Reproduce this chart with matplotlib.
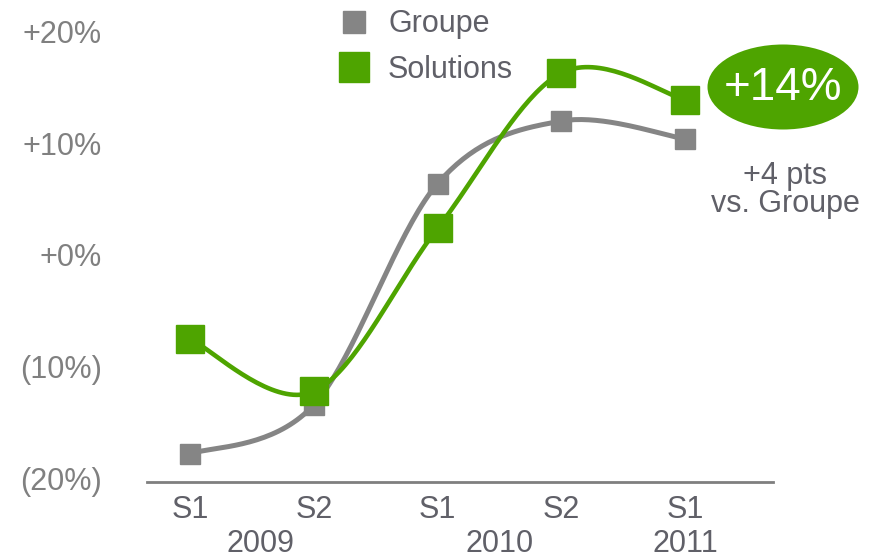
import numpy as np
import matplotlib
matplotlib.use("Agg")
import matplotlib.pyplot as plt
from matplotlib.patches import Ellipse

periods = ["S1", "S2", "S1", "S2", "S1"]
years = ["2009", "2010", "2011"]
year_pos = [0.57, 2.5, 4.0]
groupe = [-17.5, -13.1, 6.7, 12.3, 10.7]
solutions = [-7.2, -11.9, 2.7, 16.6, 14.2]
yticks = [20, 10, 0, -10, -20]
ytick_labels = ["+20%", "+10%", "+0%", "(10%)", "(20%)"]
badge_text = "+14%"
note_text = "+4 pts\nvs. Groupe"

GREEN = "#4ea400"
GREY = "#858585"
TXT = "#606068"
FS = 22

plt.rcParams['font.family'] = ['Liberation Sans', 'DejaVu Sans']

fig = plt.figure(figsize=(8.86, 5.6), dpi=100)
ax = fig.add_axes([147/886, (560-482)/560, 626/886, (482-35)/560])
ax.set_xlim(-0.347, 4.71)
ax.set_ylim(-20, 20)

def smooth(ax, xs, ys, n=40):
    pts = ax.transData.transform(np.column_stack([xs, ys]))
    P = np.vstack([pts[0], pts, pts[-1]])
    out = []
    for i in range(1, len(P) - 2):
        p0, p1, p2, p3 = P[i-1], P[i], P[i+1], P[i+2]
        t = np.linspace(0, 1, n)[:, None]
        c = 0.5 * ((2*p1) + (-p0 + p2)*t + (2*p0 - 5*p1 + 4*p2 - p3)*t**2 + (-p0 + 3*p1 - 3*p2 + p3)*t**3)
        out.append(c if i == 1 else c[1:])
    out = np.vstack(out)
    d = ax.transData.inverted().transform(out)
    return d[:, 0], d[:, 1]

x = np.arange(len(periods))
gx, gy = smooth(ax, x, groupe)
sx, sy = smooth(ax, x, solutions)
ax.plot(gx, gy, color=GREY, lw=3.6, zorder=2)
ax.plot(x, groupe, ls='none', marker='s', ms=14, color=GREY, zorder=3, clip_on=False)
ax.plot(sx, sy, color=GREEN, lw=3.3, zorder=4)
ax.plot(x, solutions, ls='none', marker='s', ms=20, color=GREEN, zorder=5, clip_on=False)

for s in ["top", "right", "left"]:
    ax.spines[s].set_visible(False)
ax.spines["bottom"].set_color("#7f7f7f")
ax.spines["bottom"].set_linewidth(2)
ax.set_xticks([])
ax.set_yticks([])

for v, lab in zip(yticks, ytick_labels):
    ax.text(-0.71, v, lab, ha='right', va='center', fontsize=FS, color="#808080",
            transform=ax.transData, clip_on=False)
for xi, p in zip(x, periods):
    ax.text(xi, -21.2, p, ha='center', va='top', fontsize=FS, color=TXT, clip_on=False)
for xp, yr in zip(year_pos, years):
    ax.text(xp, -24.2, yr, ha='center', va='top', fontsize=FS, color=TXT, clip_on=False)

# legend
lx = 354/886
fig.add_artist(plt.Line2D([lx], [1-22/560], marker='s', ms=16, color=GREY, ls='none'))
fig.add_artist(plt.Line2D([lx], [1-67/560], marker='s', ms=22, color=GREEN, ls='none'))
fig.text(388/886, 1-24/560, "Groupe", ha='left', va='center', fontsize=FS, color=TXT)
fig.text(388/886, 1-70/560, "Solutions", ha='left', va='center', fontsize=FS, color=TXT)

# badge
e = Ellipse((783/886, 1-87/560), 151/886, 85/560, transform=fig.transFigure,
            facecolor=GREEN, edgecolor='none')
fig.add_artist(e)
fig.text(783/886, 1-88/560, badge_text, ha='center', va='center', fontsize=33, color='white')
fig.text(785/886, 1-190/560, note_text, ha='center', va='center', fontsize=FS,
         color=TXT, linespacing=0.95)

fig.savefig("out.png", dpi=100)
